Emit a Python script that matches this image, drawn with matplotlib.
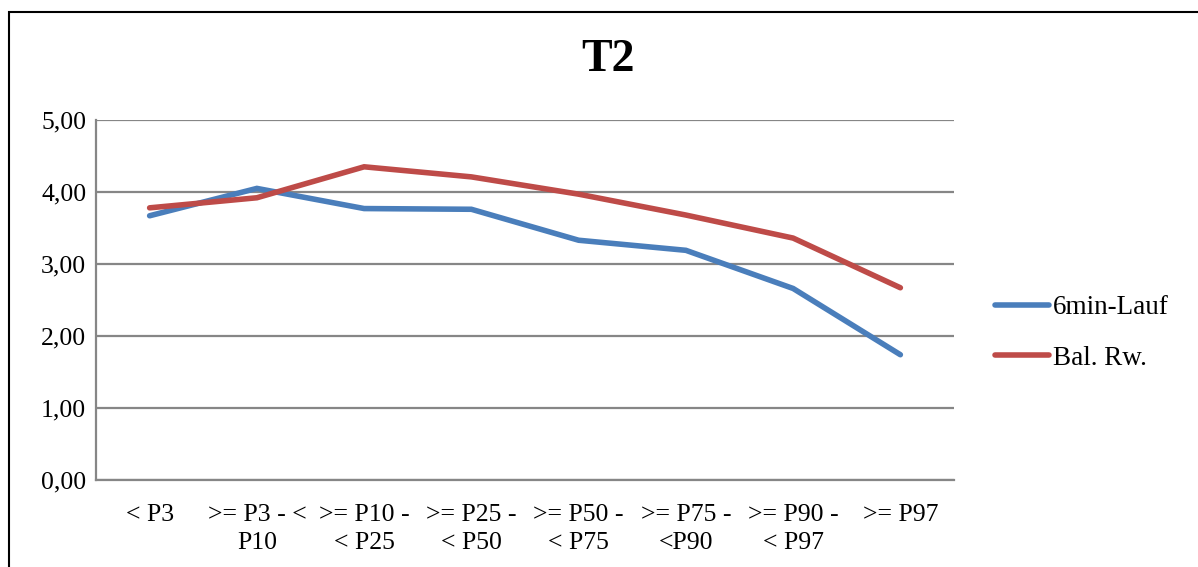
import matplotlib
matplotlib.use('Agg')
import matplotlib.pyplot as plt
from matplotlib.patches import Rectangle
from matplotlib.ticker import FuncFormatter


matplotlib.rcParams['font.family'] = ['Liberation Serif', 'DejaVu Serif']

categories = ['< P3', '>= P3 - <\nP10', '>= P10 -\n< P25', '>= P25 -\n< P50',
              '>= P50 -\n< P75', '>= P75 -\n<P90', '>= P90 -\n< P97', '>= P97']
lauf = [3.67, 4.05, 3.77, 3.76, 3.33, 3.19, 2.66, 1.74]
balrw = [3.78, 3.92, 4.35, 4.21, 3.97, 3.68, 3.36, 2.67]
yticks = [0, 1, 2, 3, 4, 5]


def plot_t2():
    fig = plt.figure(figsize=(11.98, 5.67), dpi=100)
    ax = fig.add_axes([96 / 1198, 1 - 480 / 567, (954 - 96) / 1198, 360 / 567])

    x = list(range(len(categories)))
    ax.plot(x, lauf, color='#4A7EBB', lw=4.0, solid_capstyle='round',
            solid_joinstyle='miter', label='6min-Lauf')
    ax.plot(x, balrw, color='#BE4B48', lw=4.0, solid_capstyle='round',
            solid_joinstyle='miter', label='Bal. Rw.')

    ax.set_xlim(-0.5, len(categories) - 0.5)
    ax.set_ylim(0, 5)
    ax.set_yticks(yticks)
    ax.yaxis.set_major_formatter(FuncFormatter(lambda v, p: '{:.2f}'.format(v).replace('.', ',')))
    ax.set_xticks(x)
    ax.set_xticklabels(categories, fontsize=18.5, linespacing=1.35)
    ax.tick_params(axis='y', labelsize=18.5, length=0, pad=7)
    ax.tick_params(axis='x', length=0, pad=17)

    ax.grid(axis='y', color='#868686', lw=1.6)
    ax.set_axisbelow(True)
    for s in ['top', 'right']:
        ax.spines[s].set_visible(False)
    for s in ['left', 'bottom']:
        ax.spines[s].set_color('#868686')
        ax.spines[s].set_linewidth(1.6)

    fig.text(608 / 1198, 1 - 60 / 567, 'T2', fontsize=33, fontweight='bold',
             ha='center', va='center')

    ax.legend(loc='center left', bbox_to_anchor=(981 / 1198, 1 - 333 / 567),
              bbox_transform=fig.transFigure, frameon=False, fontsize=19.5,
              handlelength=2.0, handletextpad=0.15, labelspacing=0.95, borderpad=0)

    fig.patches.append(Rectangle((9 / 1198, -0.1), 1.2, 1 - 12 / 567 + 0.1,
                                 transform=fig.transFigure, fill=False,
                                 edgecolor='black', lw=1.5))

    fig.savefig('out.png', dpi=100)


if __name__ == '__main__':
    plot_t2()
